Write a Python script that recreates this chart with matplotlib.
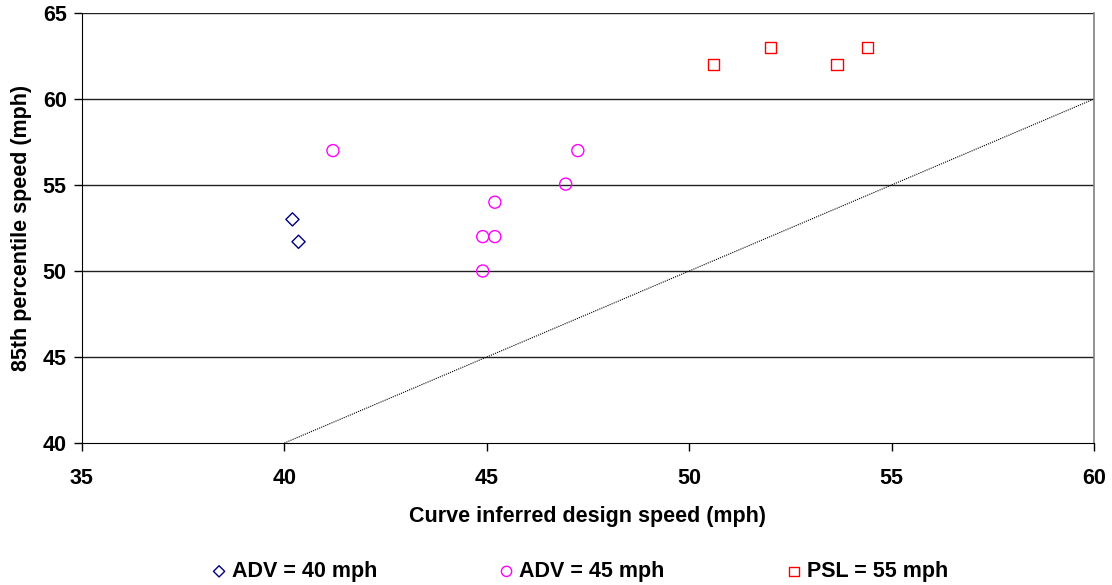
import matplotlib.pyplot as plt
import numpy as np

plt.rcParams['font.family'] = ['Liberation Sans', 'DejaVu Sans']
plt.rcParams['font.weight'] = 'bold'

# ADV = 40 mph
adv40_x = [40.2, 40.35]
adv40_y = [53.0, 51.7]

# ADV = 45 mph
adv45_x = [41.2, 44.9, 44.9, 45.2, 45.2, 46.95, 47.25]
adv45_y = [57.0, 50.0, 52.0, 52.0, 54.0, 55.05, 57.0]

# PSL = 55 mph
psl55_x = [50.6, 52.0, 53.65, 54.4]
psl55_y = [62.0, 63.0, 62.0, 63.0]

# 参考线 y = x
ref_x = [40, 60]
ref_y = [40, 60]

fig = plt.figure(figsize=(11.12, 5.85), dpi=100)
ax = fig.add_axes([0.0737, 0.2427, 0.9101, 0.7351])

# 网格线
for y in [45, 50, 55, 60, 65]:
    ax.axhline(y, color='#202020', linewidth=1.0, zorder=1)

ax.plot(ref_x, ref_y, color='black', linestyle=(0, (1, 1)), linewidth=0.8, zorder=2)

ax.scatter(adv40_x, adv40_y, marker='D', s=45, facecolors='none',
           edgecolors='#000080', linewidths=1.0, label='ADV = 40 mph', zorder=3)
ax.scatter(adv45_x, adv45_y, marker='o', s=75, facecolors='none',
           edgecolors='#FF00FF', linewidths=1.0, label='ADV = 45 mph', zorder=3)
ax.scatter(psl55_x, psl55_y, marker='s', s=65, facecolors='none',
           edgecolors='#FF0000', linewidths=1.0, label='PSL = 55 mph', zorder=3)

ax.set_xlim(35, 60)
ax.set_ylim(40, 65)
ax.set_xticks(np.arange(35, 61, 5))
ax.set_yticks(np.arange(40, 66, 5))
ax.tick_params(labelsize=15.5, direction='out', length=6, width=1, pad=12)
ax.tick_params(axis='y', pad=5)

ax.spines['top'].set_visible(False)
ax.spines['right'].set_color('#808080')
ax.spines['right'].set_linewidth(1.2)

ax.set_xlabel('Curve inferred design speed (mph)', fontsize=15.5, fontweight='bold', labelpad=12)
ax.set_ylabel('85th percentile speed (mph)', fontsize=15.5, fontweight='bold', labelpad=8)

fig.legend(loc='lower center', bbox_to_anchor=(0.52, -0.028), ncol=3, frameon=False,
           fontsize=15.5, columnspacing=5.5, handletextpad=0.1, handlelength=1.0,
           markerscale=0.85)

fig.savefig('out.png', dpi=100)
